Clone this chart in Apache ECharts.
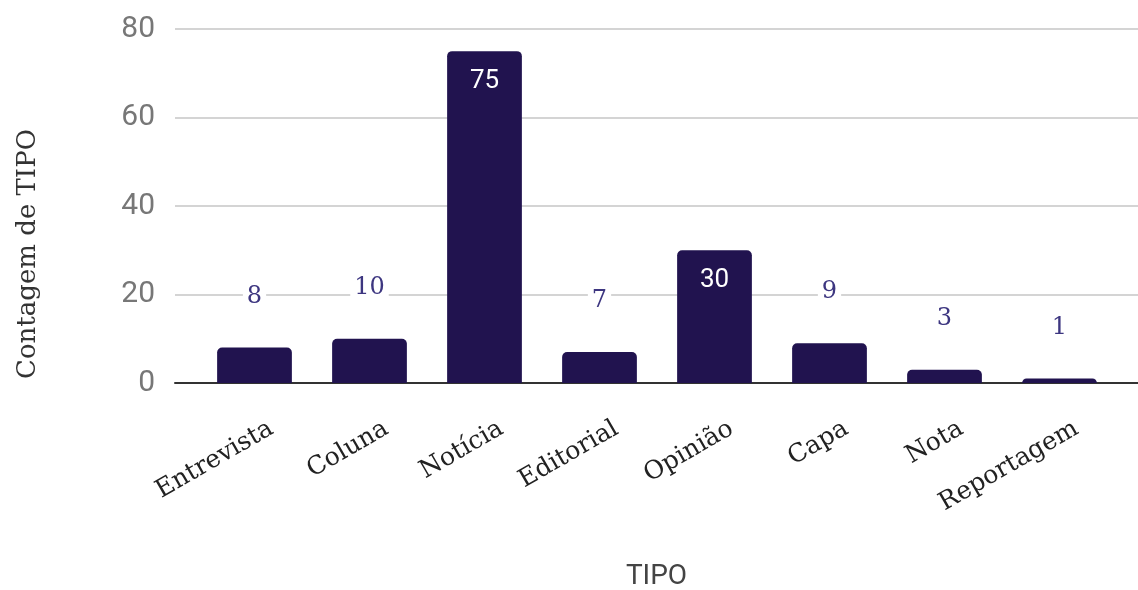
<!DOCTYPE html>
<html>
<head>
<meta charset="utf-8">
<script src="https://cdn.jsdelivr.net/npm/echarts@6/dist/echarts.min.js"></script>
<style>
  html, body { margin: 0; padding: 0; background: #fff; }
  #chart { width: 1138px; height: 590px; }
</style>
</head>
<body>
<div id="chart"></div>
<script>
// Contagem de registros por TIPO
const categories = ['Entrevista', 'Coluna', 'Notícia', 'Editorial', 'Opinião', 'Capa', 'Nota', 'Reportagem'];
const counts = [8, 10, 75, 7, 30, 9, 3, 1];
const yTicks = { min: 0, max: 80, interval: 20 };

const barColor = '#21134f';
const serif = '"DejaVu Serif", "Liberation Serif", serif';
const sans = 'Roboto, "Noto Sans", sans-serif';

// Tall bars carry their count inside, short ones above the bar
const insideLabel = {
  position: 'insideTop', distance: 17, color: '#ffffff',
  fontFamily: sans, fontSize: 26, backgroundColor: 'transparent'
};
const barData = counts.map(v => (v >= 20 ? { value: v, label: insideLabel } : { value: v }));

const gridBox = { top: 29, bottom: 207, outerBoundsMode: 'none', containLabel: false };

const chart = echarts.init(document.getElementById('chart'), null, { renderer: 'canvas' });
chart.setOption({
  animation: false,
  grid: [
    // wide grid: gridlines and baseline
    Object.assign({ left: 175, right: 0 }, gridBox),
    // bar grid
    Object.assign({ left: 197, right: 21 }, gridBox),
    // slanted category labels, nudged right of the bar centres
    Object.assign({ left: 214, right: 4 }, gridBox)
  ],
  graphic: [{
    type: 'text', x: 28, y: 254, rotation: Math.PI / 2,
    style: {
      text: 'Contagem de TIPO', align: 'center', verticalAlign: 'middle',
      fontFamily: serif, fontSize: 26, fill: '#333'
    }
  }],
  xAxis: [
    {
      gridIndex: 0, type: 'value', min: 0, max: 1,
      axisLine: { show: true, onZero: false, lineStyle: { color: '#333', width: 2 } },
      axisTick: { show: false }, axisLabel: { show: false }, splitLine: { show: false },
      name: 'TIPO', nameLocation: 'middle', nameGap: 180,
      nameTextStyle: { fontFamily: sans, fontSize: 28, color: '#444' }
    },
    {
      gridIndex: 1, type: 'category', data: categories,
      axisLine: { show: false }, axisTick: { show: false }, axisLabel: { show: false }
    },
    {
      gridIndex: 2, type: 'category', data: categories,
      axisLine: { show: false }, axisTick: { show: false },
      axisLabel: {
        rotate: 30, margin: 44, fontFamily: serif, fontSize: 25, color: '#222',
        interval: 0
      }
    }
  ],
  yAxis: [
    {
      gridIndex: 0, type: 'value', min: yTicks.min, max: yTicks.max, interval: yTicks.interval,
      axisLine: { show: false }, axisTick: { show: false },
      axisLabel: { margin: 20, fontFamily: sans, fontSize: 30, color: '#777' },
      splitLine: { lineStyle: { color: '#d4d4d4', width: 2 } }
    },
    {
      gridIndex: 1, type: 'value', min: yTicks.min, max: yTicks.max, interval: yTicks.interval,
      show: false, splitLine: { show: false }
    },
    {
      gridIndex: 2, type: 'value', min: yTicks.min, max: yTicks.max, interval: yTicks.interval,
      show: false, splitLine: { show: false }
    }
  ],
  series: [{
    type: 'bar', xAxisIndex: 1, yAxisIndex: 1,
    data: barData,
    barWidth: '65%',
    itemStyle: { color: barColor, borderRadius: [5, 5, 0, 0] },
    label: {
      show: true, position: 'top', distance: 39,
      fontFamily: serif, fontSize: 24, color: '#3d3680',
      backgroundColor: '#ffffff', padding: [0, 4]
    }
  }]
});
</script>
</body>
</html>
